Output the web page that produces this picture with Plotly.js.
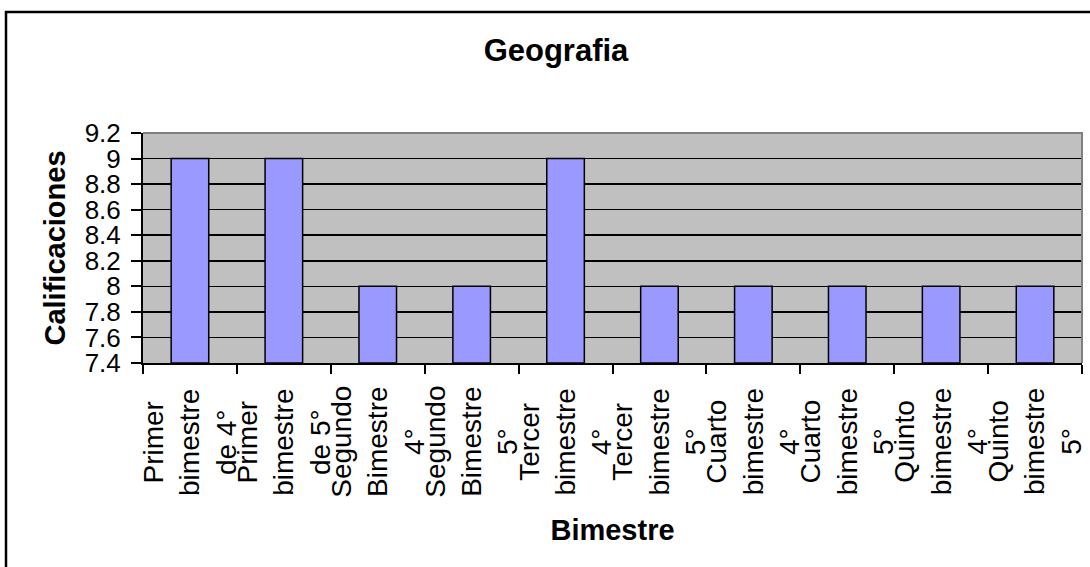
<!DOCTYPE html>
<html>
<head>
<meta charset="utf-8">
<script src="https://cdn.plot.ly/plotly-3.0.1.min.js"></script>
<style>
html,body{margin:0;padding:0;background:#fff;}
#chart{width:1090px;height:567px;}
</style>
</head>
<body>
<div id="chart"></div>
<script>
const categories = [
  "Primer bimestre de 4°",
  "Primer bimestre de 5°",
  "Segundo Bimestre 4°",
  "Segundo Bimestre 5°",
  "Tercer bimestre 4°",
  "Tercer bimestre 5°",
  "Cuarto bimestre 4°",
  "Cuarto bimestre 5°",
  "Quinto bimestre 4°",
  "Quinto bimestre 5°"
];
const tickLabels = [
  "Primer<br>bimestre<br>de 4°",
  "Primer<br>bimestre<br>de 5°",
  "Segundo<br>Bimestre<br>4°",
  "Segundo<br>Bimestre<br>5°",
  "Tercer<br>bimestre<br>4°",
  "Tercer<br>bimestre<br>5°",
  "Cuarto<br>bimestre<br>4°",
  "Cuarto<br>bimestre<br>5°",
  "Quinto<br>bimestre<br>4°",
  "Quinto<br>bimestre<br>5°"
];
const calificaciones = [9, 9, 8, 8, 9, 8, 8, 8, 8, 8];
const yMin = 7.4;
const yMax = 9.2;
const yTickVals = [7.4, 7.6, 7.8, 8, 8.2, 8.4, 8.6, 8.8, 9, 9.2];
const yTickText = ["7.4", "7.6", "7.8", "8", "8.2", "8.4", "8.6", "8.8", "9", "9.2"];

const FONT = "Arial, 'Liberation Sans', sans-serif";

const trace = {
  type: "bar",
  x: categories,
  y: calificaciones.map(v => v - yMin),
  base: yMin,
  marker: {color: "#9999FF", line: {color: "#000000", width: 1.5}},
  hoverinfo: "x+y"
};

// category labels (centered multi-line, rotated like the reference)
const labelAnnotations = categories.map((c, i) => ({
  xref: "x", yref: "paper",
  x: c, y: (363 - 442) / 230,
  text: tickLabels[i],
  textangle: -90,
  align: "center",
  xanchor: "center", yanchor: "middle",
  showarrow: false,
  font: {family: FONT, size: 28, color: "#000"}
}));

const layout = {
  width: 1090,
  height: 567,
  margin: {l: 143, r: 8, t: 133, b: 204, pad: 0},
  paper_bgcolor: "#ffffff",
  plot_bgcolor: "#C0C0C0",
  showlegend: false,
  bargap: 0.6,
  font: {family: FONT, color: "#000"},
  title: {
    text: "<b>Geografia</b>",
    font: {family: FONT, size: 31, color: "#000"},
    xref: "container", x: 556/1090, xanchor: "center",
    yref: "container", y: 1 - 50/567, yanchor: "middle"
  },
  xaxis: {
    type: "category",
    range: [-0.5, categories.length - 0.5],
    ticks: "outside",
    tickson: "boundaries",
    ticklen: 9,
    tickwidth: 2,
    tickcolor: "#000",
    showticklabels: false,
    showline: true,
    linecolor: "#000",
    linewidth: 2,
    showgrid: false,
    title: {text: "<b>Bimestre</b>", font: {family: FONT, size: 29, color: "#000"}, standoff: 156},
    automargin: false
  },
  yaxis: {
    range: [yMin, yMax],
    tickvals: yTickVals,
    ticktext: yTickText,
    ticks: "outside",
    ticklen: 10,
    tickwidth: 2,
    tickcolor: "#000",
    ticklabelstandoff: 5,
    showline: true,
    linecolor: "#000",
    linewidth: 2,
    showgrid: true,
    gridcolor: "#000",
    gridwidth: 1.5,
    zeroline: false,
    tickfont: {family: FONT, size: 26, color: "#000"},
    title: {text: "<b>Calificaciones</b>", font: {family: FONT, size: 29, color: "#000"}, standoff: 10},
    automargin: false
  },
  annotations: labelAnnotations,
  shapes: [
    {type: "path", xref: "paper", yref: "paper", path: "M0,1 L1,1 L1,0",
     line: {color: "#808080", width: 2}, layer: "above"},
    {type: "rect", xref: "paper", yref: "paper",
     x0: (6-143)/939, x1: (1095-143)/939, y0: (363-575)/230, y1: (363-12)/230,
     line: {color: "#000", width: 2.5}, fillcolor: "rgba(0,0,0,0)", layer: "above"}
  ]
};

Plotly.newPlot("chart", [trace], layout, {displayModeBar: false, staticPlot: true});
</script>
</body>
</html>
